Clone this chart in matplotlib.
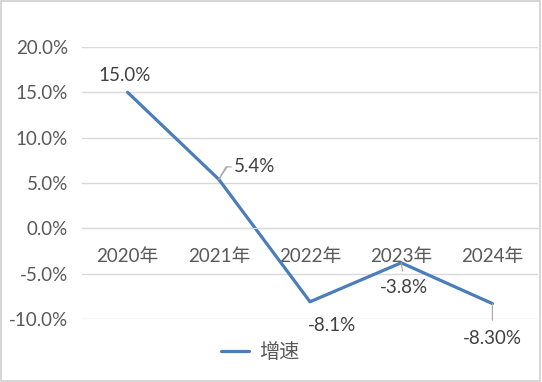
import matplotlib
matplotlib.use("Agg")
import matplotlib.pyplot as plt
from matplotlib.ticker import FuncFormatter, MultipleLocator
from matplotlib.patches import Rectangle

plt.rcParams['font.family'] = ['Lato', 'Noto Sans CJK SC', 'DejaVu Sans']

years = ['2020年', '2021年', '2022年', '2023年', '2024年']
growth = [15.0, 5.4, -8.1, -3.8, -8.3]
labels = ['15.0%', '5.4%', '-8.1%', '-3.8%', '-8.30%']
series_name = '增速'

line_color = '#4a7ebb'
text_color = '#595959'
grid_color = '#d9d9d9'
fs = 13.5

fig = plt.figure(figsize=(5.42, 3.82), dpi=100)
fig.patches.append(Rectangle((0.002, 0.003), 0.995, 0.994, transform=fig.transFigure,
                             fill=False, edgecolor='#d0d0d0', lw=1.2))
ax = fig.add_axes([82/542, 1-319/382, (538-82)/542, (319-47)/382])

x = list(range(len(years)))
ln, = ax.plot(x, growth, color=line_color, lw=2.3, solid_capstyle='round', label=series_name)

ax.set_xlim(-0.5, len(years) - 0.5)
ax.set_ylim(-10, 20)
ax.yaxis.set_major_locator(MultipleLocator(5))
ax.yaxis.set_major_formatter(FuncFormatter(lambda v, p: f"{v:.1f}%"))
ax.grid(axis='y', color=grid_color, lw=1)
ax.set_axisbelow(True)
for s in ['left', 'right', 'top']:
    ax.spines[s].set_visible(False)
ax.spines['bottom'].set_position(('data', 0))
ax.spines['bottom'].set_color(grid_color)
ax.set_xticks(x)
ax.set_xticklabels(years)
ax.tick_params(axis='x', length=0, pad=14, labelsize=fs, labelcolor=text_color)
ax.tick_params(axis='y', length=0, pad=10, labelsize=fs, labelcolor=text_color)

# data labels (offsets in points)
offsets = [(-2, 12), (26, 9), (16, -17), (2, -18), (0, -25)]
for xi, yi, lab, off in zip(x, growth, labels, offsets):
    ax.annotate(lab, (xi, yi), xytext=off, textcoords='offset points',
                ha='center', va='center', fontsize=fs, color='#404040')

# leader lines
gray = '#a6a6a6'
ax.annotate('', (x[1], growth[1]), xytext=(6, 9), textcoords='offset points',
            arrowprops=dict(arrowstyle='-', color=gray, lw=0.8, shrinkA=0, shrinkB=0))
ax.annotate('', (x[1], growth[1]), xytext=(9, 9), textcoords='offset points',
            arrowprops=dict(arrowstyle='-', color=gray, lw=0.8, shrinkA=0, shrinkB=0,
                            connectionstyle='angle,angleA=0,angleB=60,rad=0'))
ax.annotate('', (x[4], growth[4]), xytext=(0, -12), textcoords='offset points',
            arrowprops=dict(arrowstyle='-', color=gray, lw=0.8, shrinkA=0, shrinkB=0))
ax.annotate('', (x[3], growth[3]), xytext=(1, -6), textcoords='offset points',
            arrowprops=dict(arrowstyle='-', color=gray, lw=0.8, shrinkA=0, shrinkB=0))

leg = fig.legend(handles=[ln], loc='center', bbox_to_anchor=(0.48, 1-352/382),
                 frameon=False, prop={'size': 14.5}, handlelength=1.4, handletextpad=0.5)
for t in leg.get_texts():
    t.set_color(text_color)

fig.savefig('out.png', dpi=100)
